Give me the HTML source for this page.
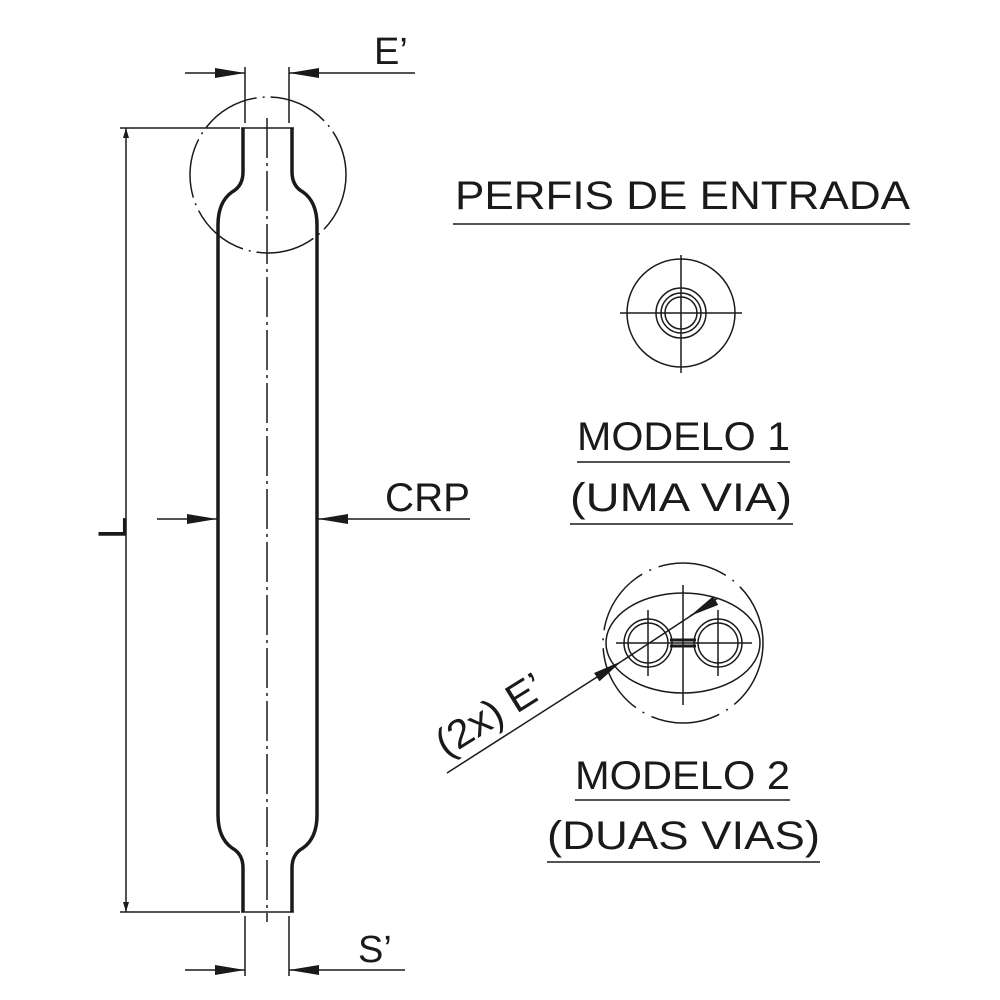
<!DOCTYPE html>
<html><head><style>body{margin:0;background:#fff}svg{display:block}</style></head><body>
<svg width="1000" height="1000" viewBox="0 0 1000 1000" xmlns="http://www.w3.org/2000/svg" font-family="Liberation Sans, sans-serif" fill="none" stroke="#1a1a1a">
<defs>
<marker id="a" viewBox="0 0 10 6" refX="10" refY="3" markerWidth="10" markerHeight="6" markerUnits="userSpaceOnUse" orient="auto"><path d="M0,0L10,3L0,6z" fill="#1a1a1a" stroke="none"/></marker>
<marker id="b" viewBox="0 0 30 10" refX="30" refY="5" markerWidth="30" markerHeight="10" markerUnits="userSpaceOnUse" orient="auto"><path d="M0,0L30,5L0,10z" fill="#1a1a1a" stroke="none"/></marker>
</defs>
<g stroke-width="3.5">
<path d="M243,128 L243,172 Q243,186 232,192 Q218,202 218,225 L218,815 Q218,838 232,848 Q243,854 243,868 L243,912"/>
<path d="M292,128 L292,172 Q292,186 303,192 Q317,202 317,225 L317,815 Q317,838 303,848 Q292,854 292,868 L292,912"/>
</g>
<g stroke-width="1.5">
<line x1="241" y1="128" x2="294" y2="128"/><line x1="241" y1="912" x2="294" y2="912"/>
<line x1="267" y1="118" x2="267" y2="922" stroke-dasharray="40,5,3,5"/>
<circle cx="268" cy="175" r="78" stroke-dasharray="60,6,2,6"/>
<line x1="245" y1="67" x2="245" y2="123"/><line x1="289" y1="67" x2="289" y2="123"/>
<line x1="185" y1="73" x2="245" y2="73" marker-end="url(#b)"/><line x1="415" y1="73" x2="289" y2="73" marker-end="url(#b)"/>
<line x1="245" y1="916" x2="245" y2="976"/><line x1="289" y1="916" x2="289" y2="976"/>
<line x1="185" y1="970" x2="245" y2="970" marker-end="url(#b)"/><line x1="405" y1="970" x2="289" y2="970" marker-end="url(#b)"/>
<line x1="120" y1="128" x2="240" y2="128"/><line x1="120" y1="912" x2="240" y2="912"/>
<line x1="126" y1="520" x2="126" y2="128" marker-end="url(#a)"/><line x1="126" y1="520" x2="126" y2="912" marker-end="url(#a)"/>
<line x1="157" y1="519" x2="217" y2="519" marker-end="url(#b)"/><line x1="470" y1="519" x2="318" y2="519" marker-end="url(#b)"/>
<line x1="453" y1="224" x2="910" y2="224"/>
<line x1="577" y1="462" x2="790" y2="462"/><line x1="570" y1="524" x2="793" y2="524"/>
<line x1="575" y1="800" x2="790" y2="800"/><line x1="547" y1="862" x2="820" y2="862"/>
<circle cx="681" cy="313" r="54"/><circle cx="681" cy="313" r="25"/><circle cx="681" cy="313" r="20"/><circle cx="681" cy="313" r="16"/>
<line x1="620" y1="313" x2="742" y2="313"/><line x1="681" y1="255" x2="681" y2="373"/>
<circle cx="683" cy="643" r="80" stroke-dasharray="70,8,2,8"/>
<ellipse cx="683" cy="643" rx="77" ry="50"/>
<circle cx="648" cy="643" r="24"/><circle cx="648" cy="643" r="20"/>
<circle cx="718" cy="643" r="24"/><circle cx="718" cy="643" r="20"/>
<line x1="670" y1="640" x2="696" y2="640" stroke-width="3"/><line x1="670" y1="646" x2="696" y2="646" stroke-width="3"/>
<line x1="616" y1="643" x2="752" y2="643"/><line x1="683" y1="585" x2="683" y2="705"/>
<line x1="648" y1="610" x2="648" y2="676"/><line x1="718" y1="610" x2="718" y2="676"/>
<line x1="447" y1="773" x2="622" y2="661" marker-end="url(#b)"/>
<line x1="622" y1="661" x2="718" y2="598"/>
<line x1="700" y1="610" x2="690" y2="616" marker-end="url(#b)"/>
</g>
<g fill="#1a1a1a" stroke="none" font-size="40">
<text x="374" y="64" font-size="38">E’</text>
<text x="358" y="962" font-size="38">S’</text>
<text x="385" y="511" textLength="85" lengthAdjust="spacingAndGlyphs" font-size="40">CRP</text>
<text transform="translate(126,527) rotate(-90)" x="-12" y="0" font-size="40">L</text>
<text x="455" y="209" textLength="455" lengthAdjust="spacingAndGlyphs">PERFIS DE ENTRADA</text>
<text x="577" y="450" textLength="213" lengthAdjust="spacingAndGlyphs">MODELO 1</text>
<text x="570" y="511" textLength="222" lengthAdjust="spacingAndGlyphs">(UMA VIA)</text>
<text x="575" y="789" textLength="215" lengthAdjust="spacingAndGlyphs">MODELO 2</text>
<text x="547" y="849" textLength="273" lengthAdjust="spacingAndGlyphs">(DUAS VIAS)</text>
<text transform="translate(446,758) rotate(-32)" x="0" y="0" textLength="120" lengthAdjust="spacingAndGlyphs">(2x) E’</text>
</g>
</svg>
</body></html>
